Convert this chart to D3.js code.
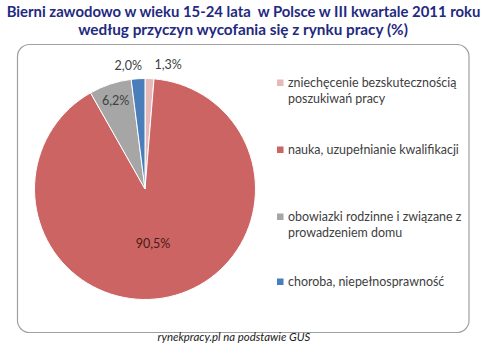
<!DOCTYPE html>
<html><head><meta charset="utf-8">
<script src="https://cdn.jsdelivr.net/npm/d3@7"></script>
<style>body{margin:0;background:#fff}svg{display:block}</style>
</head><body>
<svg id="c" width="487" height="358"></svg>
<script>
const titleLines = ["Bierni zawodowo w wieku 15-24 lata  w Polsce w III kwartale 2011 roku","według przyczyn wycofania się z rynku pracy (%)"];
const categories = [["zniechęcenie bezskutecznością","poszukiwań pracy"],["nauka, uzupełnianie kwalifikacji"],["obowiazki rodzinne i związane z","prowadzeniem domu"],["choroba, niepełnosprawność"]];
const values = [1.3, 90.5, 6.2, 2.0];
const valueLabels = ["1,3%","90,5%","6,2%","2,0%"];
const colors = ["#e6b9b8","#cb6462","#a6a6a6","#4a7ebb"];
const source = "rynekpracy.pl na podstawie GUS";

const svg = d3.select("#c");
const font = "Lato, 'Open Sans', sans-serif";

function fit(sel, target){
  const w = sel.node().getComputedTextLength();
  const fs = parseFloat(sel.attr("font-size"));
  sel.attr("font-size", (fs*target/w).toFixed(2));
}
function squeeze(sel, x, y, target){
  const w = sel.node().getComputedTextLength();
  sel.attr("transform", `translate(${x},${y}) scale(${(target/w).toFixed(4)},1)`);
}

// frame
svg.append("rect").attr("x",17.5).attr("y",44.5).attr("width",451.5).attr("height",288)
  .attr("rx",12).attr("fill","none").attr("stroke","#a0a0a0").attr("stroke-width",1.2);

// title
const t1 = svg.append("text").attr("text-anchor","middle")
  .attr("font-family",font).attr("font-weight","bold").attr("font-size",16).attr("fill","#1f2a80")
  .attr("xml:space","preserve").text(titleLines[0]);
squeeze(t1, 243.5, 16.5, 474);
const t2 = svg.append("text").attr("text-anchor","middle")
  .attr("font-family",font).attr("font-weight","bold").attr("font-size",16).attr("fill","#1f2a80")
  .text(titleLines[1]);
squeeze(t2, 243, 34.5, 330);

// pie
const cx = 145, cy = 189, R = 110.5;
const pie = d3.pie().sort(null).value(d=>d);
const arcs = pie(values);
const arc = d3.arc().innerRadius(0).outerRadius(R);
const g = svg.append("g").attr("transform",`translate(${cx},${cy})`);
g.selectAll("path").data(arcs).join("path")
  .attr("d",arc).attr("fill",(d,i)=>colors[i]).attr("stroke","#fff").attr("stroke-width",1);

const labelR = [124, 56, 93, 124];
const labelDx = [18, -4, 0, -9];
g.selectAll("text.v").data(arcs).join("text").attr("class","v")
  .attr("transform",(d,i)=>{
    const c = d3.arc().innerRadius(labelR[i]).outerRadius(labelR[i]).centroid(d);
    return `translate(${c[0]+labelDx[i]},${c[1]})`;
  })
  .attr("text-anchor","middle").attr("dy","0.35em")
  .attr("font-family",font).attr("font-size",12.5)
  .attr("fill",(d,i)=> i===1 ? "#4a1a1a" : "#404040")
  .text((d,i)=>valueLabels[i]);

// legend
const legY = [83, 150, 217, 282];
const lg = svg.append("g");
categories.forEach((lines,i)=>{
  lg.append("rect").attr("x",277).attr("y",legY[i]-3.5).attr("width",6.5).attr("height",6.5).attr("fill",colors[i]);
  lines.forEach((ln,j)=>{
    lg.append("text").attr("class","leg").attr("x",288).attr("y",legY[i]+j*15.5).attr("dy","0.35em")
      .attr("font-family",font).attr("font-size",12).attr("fill","#404040").text(ln);
  });
});
const ref = lg.selectAll("text.leg").filter(function(){return this.textContent===categories[1][0];});
const w0 = ref.node().getComputedTextLength();
const fsL = 12*171/w0;
lg.selectAll("text.leg").attr("font-size",fsL.toFixed(2));

// source
const s = svg.append("text").attr("x",234).attr("y",341).attr("text-anchor","middle")
  .attr("font-family",font).attr("font-style","italic").attr("font-size",11.5).attr("fill","#202020")
  .text(source);
fit(s, 153);
</script>
</body></html>
